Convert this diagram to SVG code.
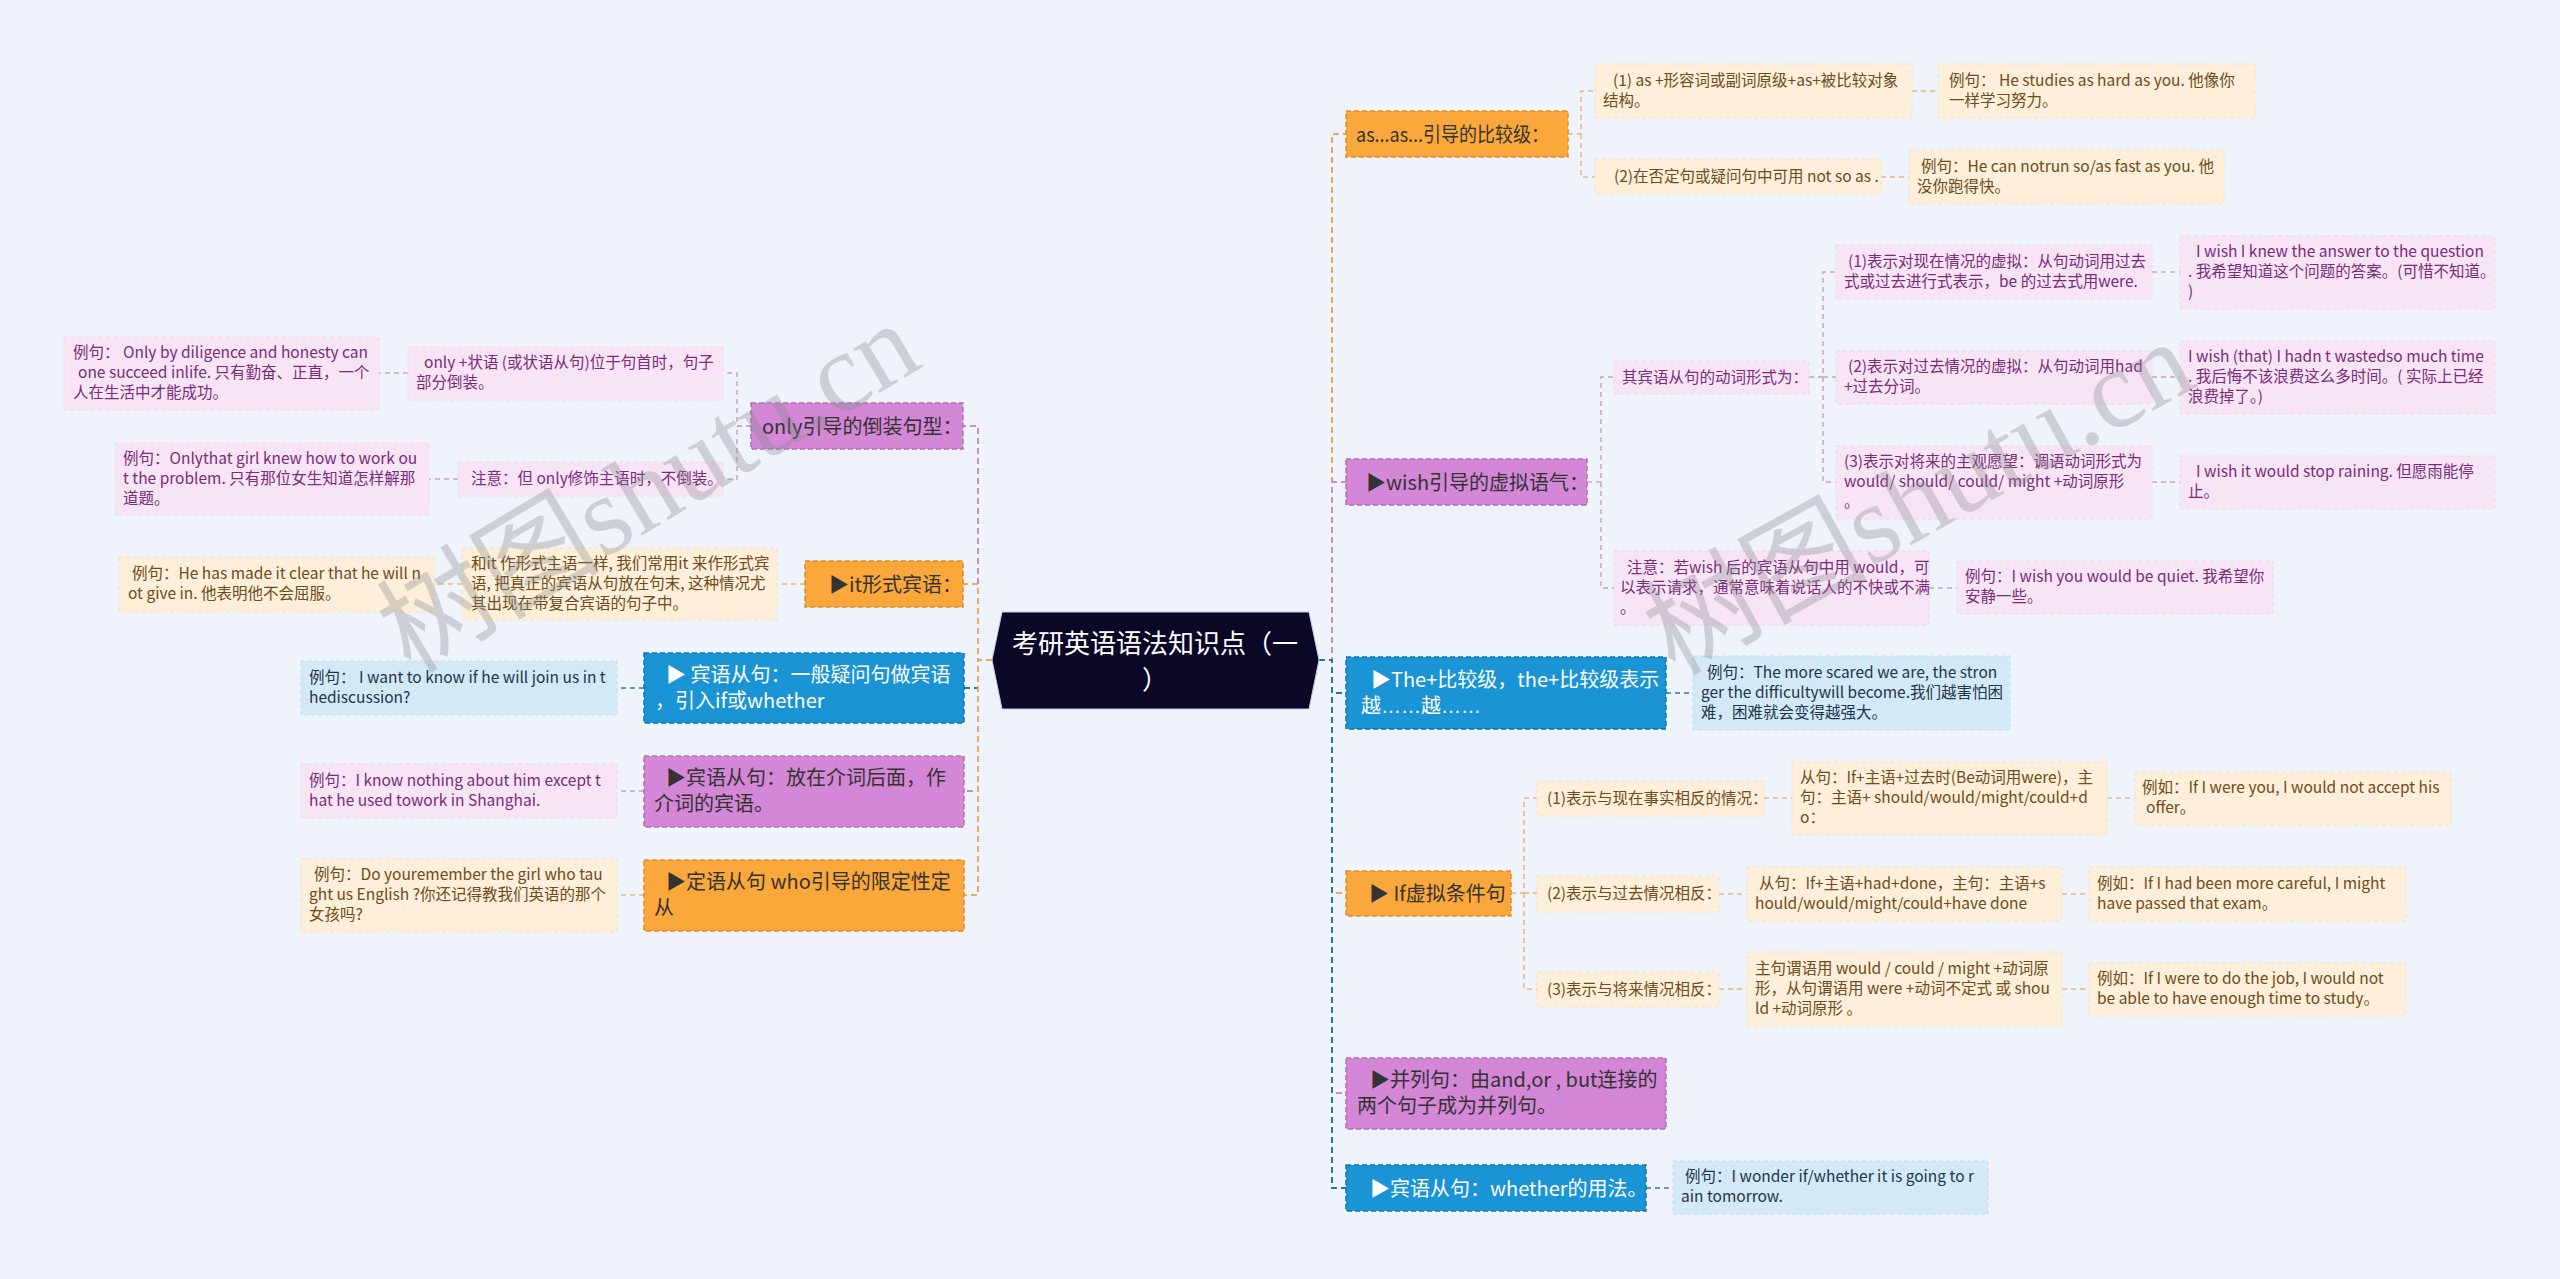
<svg xmlns="http://www.w3.org/2000/svg" width="2560" height="1279" viewBox="0 0 2560 1279">
<style>
text{font-family:"Noto Sans CJK SC","Liberation Sans",sans-serif;}
.no{fill:#FAA73B;stroke:#E38C25;stroke-width:1.5;stroke-dasharray:5 3;}
.np{fill:#D387D6;stroke:#B46DB7;stroke-width:1.5;stroke-dasharray:5 3;}
.nb{fill:#1A94D4;stroke:#0E74AE;stroke-width:1.5;stroke-dasharray:5 3;}
.lo{fill:#FDEFD9;stroke:#F7E2C3;stroke-width:1;stroke-dasharray:4 3;}
.lp{fill:#F7E5F6;stroke:#EFD6EE;stroke-width:1;stroke-dasharray:4 3;}
.lb{fill:#D3E9F6;stroke:#C0DDEF;stroke-width:1;stroke-dasharray:4 3;}
.tn{font-size:20px;fill:#333333;}
.tw{font-size:20px;fill:#FFFFFF;}
.to{font-size:15.5px;fill:#6E4B20;}
.tp{font-size:15.5px;fill:#7A2B7A;}
.tb{font-size:15.5px;fill:#1E3548;}
.el{font-family:"Liberation Sans",sans-serif;}
.c{fill:none;stroke-width:2;stroke-dasharray:6 4;}
.s{fill:none;stroke-width:1.5;stroke-dasharray:5 4;}
.co{stroke:#F0A55A;}
.cp{stroke:#C98BCB;}
.cb{stroke:#1F78AC;}
.so{stroke:#E9B77C;}
.sp{stroke:#C9A0C8;}
.sb{stroke:#3C7A9E;}
.wm{font-family:"Liberation Serif","Noto Sans CJK SC",serif;font-size:112px;fill:#8A8A8A;fill-opacity:0.33;}
</style>
<rect x="0" y="0" width="2560" height="1279" fill="#EEF3FC"/>

<g id="connectors">
  <path class="c cp" d="M992,660 H978 V426 H963"/>
  <path class="c cp" d="M992,660 H978 V791 H964"/>
  <path class="c cb" d="M992,660 H978 V688 H964"/>
  <path class="c co" d="M992,660 H978 V584 H963"/>
  <path class="c co" d="M992,660 H978 V895 H964"/>
  <path class="s sp" d="M751,426 H737 V373 H723"/>
  <path class="s sp" d="M751,426 H737 V479 H723"/>
  <path class="s sp" d="M408,373 H379"/>
  <path class="s sp" d="M458,479 H429"/>
  <path class="s so" d="M805,584 H777"/>
  <path class="s so" d="M462,584 H434"/>
  <path class="s sb" d="M644,688 H617"/>
  <path class="s sp" d="M644,791 H617"/>
  <path class="s so" d="M644,895 H617"/>

  <path class="c co" d="M1319,660 H1332 V134 H1346"/>
  <path class="c cp" d="M1319,660 H1332 V482 H1346"/>
  <path class="c co" d="M1319,660 H1332 V893 H1346"/>
  <path class="c cp" d="M1319,660 H1332 V1093 H1346"/>
  <path class="c cb" d="M1319,660 H1332 V1188 H1346"/>
  <path class="c cb" d="M1319,660 H1332 V693 H1346"/>
  <path class="s so" d="M1568,134 H1581 V91 H1595"/>
  <path class="s so" d="M1581,134 V177 H1595"/>
  <path class="s so" d="M1912,91 H1938"/>
  <path class="s so" d="M1881,177 H1909"/>
  <path class="s sp" d="M1587,482 H1601 V377 H1614"/>
  <path class="s sp" d="M1601,482 V588 H1614"/>
  <path class="s sp" d="M1809,377 H1823 V272 H1836"/>
  <path class="s sp" d="M1823,377 H1836"/>
  <path class="s sp" d="M1823,377 V482 H1836"/>
  <path class="s sp" d="M2152,272 H2180"/>
  <path class="s sp" d="M2152,377 H2180"/>
  <path class="s sp" d="M2152,482 H2180"/>
  <path class="s sp" d="M1929,588 H1957"/>
  <path class="s sb" d="M1666,693 H1693"/>
  <path class="s so" d="M1511,893 H1524 V798 H1537"/>
  <path class="s so" d="M1524,893 H1537"/>
  <path class="s so" d="M1524,893 V989 H1537"/>
  <path class="s so" d="M1764,798 H1792"/>
  <path class="s so" d="M2107,798 H2135"/>
  <path class="s so" d="M1719,894 H1747"/>
  <path class="s so" d="M2062,894 H2089"/>
  <path class="s so" d="M1719,989 H1747"/>
  <path class="s so" d="M2062,989 H2089"/>
  <path class="s sb" d="M1646,1188 H1673"/>
</g>

<g id="root">
  <polygon points="1002,612 1309,612 1319,660 1309,709 1002,709 992,660" fill="#0B0727" stroke="#C9CCE0" stroke-width="1"/>
  <text x="1155" y="653" font-size="26" fill="#FFFFFF" text-anchor="middle">考研英语语法知识点（一</text>
  <text x="1155" y="689" font-size="26" fill="#FFFFFF" text-anchor="middle">）</text>
</g>

<!-- LEFT -->
<g id="n-only">
  <rect class="np" x="751" y="403" width="212" height="46"/>
  <text class="tn" x="762" y="434">only引导的倒装句型：</text>
</g>
<g id="n-only-1">
  <rect class="lp" x="408" y="347" width="315" height="53"/>
  <text class="tp"><tspan x="424" y="368">only +状语 (或状语从句)位于句首时，句子</tspan><tspan x="416" y="388">部分倒装。</tspan></text>
</g>
<g id="n-only-1-ex">
  <rect class="lp" x="64" y="337" width="315" height="73"/>
  <text class="tp"><tspan x="73" y="358">例句：  Only by diligence and honesty can</tspan><tspan x="78" y="378">one succeed inlife. 只有勤奋、正直，一个</tspan><tspan x="73" y="398">人在生活中才能成功。</tspan></text>
</g>
<g id="n-only-2">
  <rect class="lp" x="458" y="462" width="265" height="34"/>
  <text class="tp" x="471" y="484">注意：但 only修饰主语时，不倒装。</text>
</g>
<g id="n-only-2-ex">
  <rect class="lp" x="115" y="443" width="314" height="72"/>
  <text class="tp"><tspan x="123" y="464">例句：Onlythat girl knew how to work ou</tspan><tspan x="123" y="484">t the problem. 只有那位女生知道怎样解那</tspan><tspan x="123" y="504">道题。</tspan></text>
</g>
<g id="n-it">
  <rect class="no" x="805" y="561" width="158" height="46"/>
  <text class="tn" x="829" y="592">▶it形式宾语：</text>
</g>
<g id="n-it-1">
  <rect class="lo" x="462" y="548" width="315" height="72"/>
  <text class="to"><tspan x="471" y="569">和it 作形式主语一样, 我们常用it 来作形式宾</tspan><tspan x="471" y="589">语, 把真正的宾语从句放在句末, 这种情况尤</tspan><tspan x="471" y="609">其出现在带复合宾语的句子中。</tspan></text>
</g>
<g id="n-it-1-ex">
  <rect class="lo" x="119" y="557" width="315" height="55"/>
  <text class="to"><tspan x="132" y="579">例句：He has made it clear that he will n</tspan><tspan x="128" y="599">ot give in. 他表明他不会屈服。</tspan></text>
</g>
<g id="n-obj1">
  <rect class="nb" x="644" y="653" width="320" height="70"/>
  <text class="tw"><tspan x="666" y="682">▶ 宾语从句：一般疑问句做宾语</tspan><tspan x="655" y="708">，引入if或whether</tspan></text>
</g>
<g id="n-obj1-ex">
  <rect class="lb" x="301" y="661" width="316" height="54"/>
  <text class="tb"><tspan x="309" y="683">例句： I want to know if he will join us in t</tspan><tspan x="309" y="703">hediscussion?</tspan></text>
</g>
<g id="n-obj2">
  <rect class="np" x="644" y="756" width="320" height="71"/>
  <text class="tn"><tspan x="666" y="785">▶宾语从句：放在介词后面，作</tspan><tspan x="654" y="811">介词的宾语。</tspan></text>
</g>
<g id="n-obj2-ex">
  <rect class="lp" x="301" y="764" width="316" height="54"/>
  <text class="tp"><tspan x="309" y="786">例句：I know nothing about him except t</tspan><tspan x="309" y="806">hat he used towork in Shanghai.</tspan></text>
</g>
<g id="n-attr">
  <rect class="no" x="644" y="860" width="320" height="71"/>
  <text class="tn"><tspan x="666" y="889">▶定语从句 who引导的限定性定</tspan><tspan x="654" y="915">从</tspan></text>
</g>
<g id="n-attr-ex">
  <rect class="lo" x="301" y="859" width="316" height="73"/>
  <text class="to"><tspan x="314" y="880">例句：Do youremember the girl who tau</tspan><tspan x="309" y="900">ght us English ?你还记得教我们英语的那个</tspan><tspan x="309" y="920">女孩吗?</tspan></text>
</g>

<!-- RIGHT -->
<g id="n-as">
  <rect class="no" x="1346" y="111" width="222" height="46"/>
  <text class="tn" x="1356" y="142" textLength="193" lengthAdjust="spacingAndGlyphs">as...as...引导的比较级：</text>
</g>
<g id="n-as-1">
  <rect class="lo" x="1595" y="64" width="317" height="54"/>
  <text class="to"><tspan x="1613" y="86">(1) as +形容词或副词原级+as+被比较对象</tspan><tspan x="1603" y="106">结构。</tspan></text>
</g>
<g id="n-as-1-ex">
  <rect class="lo" x="1938" y="64" width="317" height="54"/>
  <text class="to"><tspan x="1949" y="86">例句： He studies as hard as you. 他像你</tspan><tspan x="1949" y="106">一样学习努力。</tspan></text>
</g>
<g id="n-as-2">
  <rect class="lo" x="1595" y="159" width="286" height="35"/>
  <text class="to" x="1614" y="182">(2)在否定句或疑问句中可用 not so as .</text>
</g>
<g id="n-as-2-ex">
  <rect class="lo" x="1909" y="150" width="315" height="54"/>
  <text class="to"><tspan x="1921" y="172">例句：He can notrun so/as fast as you. 他</tspan><tspan x="1917" y="192">没你跑得快。</tspan></text>
</g>
<g id="n-wish">
  <rect class="np" x="1346" y="459" width="241" height="46"/>
  <text class="tn" x="1366" y="490">▶wish引导的虚拟语气：</text>
</g>
<g id="n-wish-1">
  <rect class="lp" x="1614" y="361" width="195" height="33"/>
  <text class="tp" x="1622" y="383">其宾语从句的动词形式为：</text>
</g>
<g id="n-wish-1-a">
  <rect class="lp" x="1836" y="245" width="316" height="54"/>
  <text class="tp"><tspan x="1848" y="267">(1)表示对现在情况的虚拟：从句动词用过去</tspan><tspan x="1844" y="287">式或过去进行式表示，be 的过去式用were.</tspan></text>
</g>
<g id="n-wish-1-a-ex">
  <rect class="lp" x="2180" y="236" width="315" height="73"/>
  <text class="tp"><tspan x="2196" y="257">I wish I knew the answer to the question</tspan><tspan x="2188" y="277">. 我希望知道这个问题的答案。(可惜不知道。</tspan><tspan x="2188" y="297">)</tspan></text>
</g>
<g id="n-wish-1-b">
  <rect class="lp" x="1836" y="351" width="316" height="53"/>
  <text class="tp"><tspan x="1848" y="372">(2)表示对过去情况的虚拟：从句动词用had</tspan><tspan x="1844" y="392">+过去分词。</tspan></text>
</g>
<g id="n-wish-1-b-ex">
  <rect class="lp" x="2180" y="341" width="315" height="73"/>
  <text class="tp"><tspan x="2188" y="362">I wish (that) I hadn t wastedso much time</tspan><tspan x="2188" y="382">. 我后悔不该浪费这么多时间。( 实际上已经</tspan><tspan x="2188" y="402">浪费掉了。)</tspan></text>
</g>
<g id="n-wish-1-c">
  <rect class="lp" x="1836" y="446" width="316" height="73"/>
  <text class="tp"><tspan x="1844" y="467">(3)表示对将来的主观愿望：调语动词形式为</tspan><tspan x="1844" y="487">would/ should/ could/ might +动词原形</tspan><tspan x="1844" y="507">。</tspan></text>
</g>
<g id="n-wish-1-c-ex">
  <rect class="lp" x="2180" y="456" width="315" height="53"/>
  <text class="tp"><tspan x="2196" y="477">I wish it would stop raining. 但愿雨能停</tspan><tspan x="2188" y="497">止。</tspan></text>
</g>
<g id="n-wish-2">
  <rect class="lp" x="1614" y="551" width="315" height="74"/>
  <text class="tp"><tspan x="1627" y="573">注意：若wish 后的宾语从句中用 would，可</tspan><tspan x="1620" y="593">以表示请求，通常意味着说话人的不快或不满</tspan><tspan x="1620" y="613">。</tspan></text>
</g>
<g id="n-wish-2-ex">
  <rect class="lp" x="1957" y="561" width="316" height="53"/>
  <text class="tp"><tspan x="1965" y="582">例句：I wish you would be quiet. 我希望你</tspan><tspan x="1965" y="602">安静一些。</tspan></text>
</g>
<g id="n-the">
  <rect class="nb" x="1346" y="657" width="320" height="72"/>
  <text class="tw"><tspan x="1371" y="687">▶The+比较级，the+比较级表示</tspan><tspan x="1361" y="713">越<tspan class="el">……</tspan>越<tspan class="el">……</tspan></tspan></text>
</g>
<g id="n-the-ex">
  <rect class="lb" x="1693" y="656" width="317" height="74"/>
  <text class="tb"><tspan x="1707" y="678">例句：The more scared we are, the stron</tspan><tspan x="1701" y="698">ger the difficultywill become.我们越害怕困</tspan><tspan x="1701" y="718">难，困难就会变得越强大。</tspan></text>
</g>
<g id="n-if">
  <rect class="no" x="1346" y="871" width="165" height="45"/>
  <text class="tn" x="1369" y="901">▶ If虚拟条件句</text>
</g>
<g id="n-if-1">
  <rect class="lo" x="1537" y="781" width="227" height="35"/>
  <text class="to" x="1547" y="804">(1)表示与现在事实相反的情况：</text>
</g>
<g id="n-if-1-a">
  <rect class="lo" x="1792" y="762" width="315" height="73"/>
  <text class="to"><tspan x="1800" y="783">从句：If+主语+过去时(Be动词用were)，主</tspan><tspan x="1800" y="803">句：主语+ should/would/might/could+d</tspan><tspan x="1800" y="823">o：</tspan></text>
</g>
<g id="n-if-1-ex">
  <rect class="lo" x="2135" y="772" width="316" height="53"/>
  <text class="to"><tspan x="2142" y="793">例如：If I were you, I would not accept his</tspan><tspan x="2146" y="813">offer。</tspan></text>
</g>
<g id="n-if-2">
  <rect class="lo" x="1537" y="876" width="182" height="36"/>
  <text class="to" x="1547" y="899">(2)表示与过去情况相反：</text>
</g>
<g id="n-if-2-a">
  <rect class="lo" x="1747" y="867" width="315" height="54"/>
  <text class="to"><tspan x="1759" y="889">从句：If+主语+had+done，主句：主语+s</tspan><tspan x="1755" y="909">hould/would/might/could+have done</tspan></text>
</g>
<g id="n-if-2-ex">
  <rect class="lo" x="2089" y="867" width="317" height="54"/>
  <text class="to"><tspan x="2097" y="889">例如：If I had been more careful, I might</tspan><tspan x="2097" y="909">have passed that exam。</tspan></text>
</g>
<g id="n-if-3">
  <rect class="lo" x="1537" y="972" width="182" height="35"/>
  <text class="to" x="1547" y="995">(3)表示与将来情况相反：</text>
</g>
<g id="n-if-3-a">
  <rect class="lo" x="1747" y="952" width="315" height="74"/>
  <text class="to"><tspan x="1755" y="974">主句谓语用 would / could / might +动词原</tspan><tspan x="1755" y="994">形，从句谓语用 were +动词不定式 或 shou</tspan><tspan x="1755" y="1014">ld +动词原形 。</tspan></text>
</g>
<g id="n-if-3-ex">
  <rect class="lo" x="2089" y="963" width="317" height="53"/>
  <text class="to"><tspan x="2097" y="984">例如：If I were to do the job, I would not</tspan><tspan x="2097" y="1004">be able to have enough time to study。</tspan></text>
</g>
<g id="n-para">
  <rect class="np" x="1346" y="1058" width="320" height="71"/>
  <text class="tn"><tspan x="1370" y="1087">▶并列句：由and,or , but连接的</tspan><tspan x="1357" y="1113">两个句子成为并列句。</tspan></text>
</g>
<g id="n-whether">
  <rect class="nb" x="1346" y="1165" width="300" height="46"/>
  <text class="tw" x="1370" y="1196">▶宾语从句：whether的用法。</text>
</g>
<g id="n-whether-ex">
  <rect class="lb" x="1673" y="1161" width="315" height="53"/>
  <text class="tb"><tspan x="1685" y="1182">例句：I wonder if/whether it is going to r</tspan><tspan x="1681" y="1202">ain tomorrow.</tspan></text>
</g>

<text class="wm" x="650" y="525" text-anchor="middle" transform="rotate(-31 650 490)">树图shutu.cn</text>
<text class="wm" x="1920" y="535" text-anchor="middle" transform="rotate(-29 1920 500)">树图shutu.cn</text>
</svg>
